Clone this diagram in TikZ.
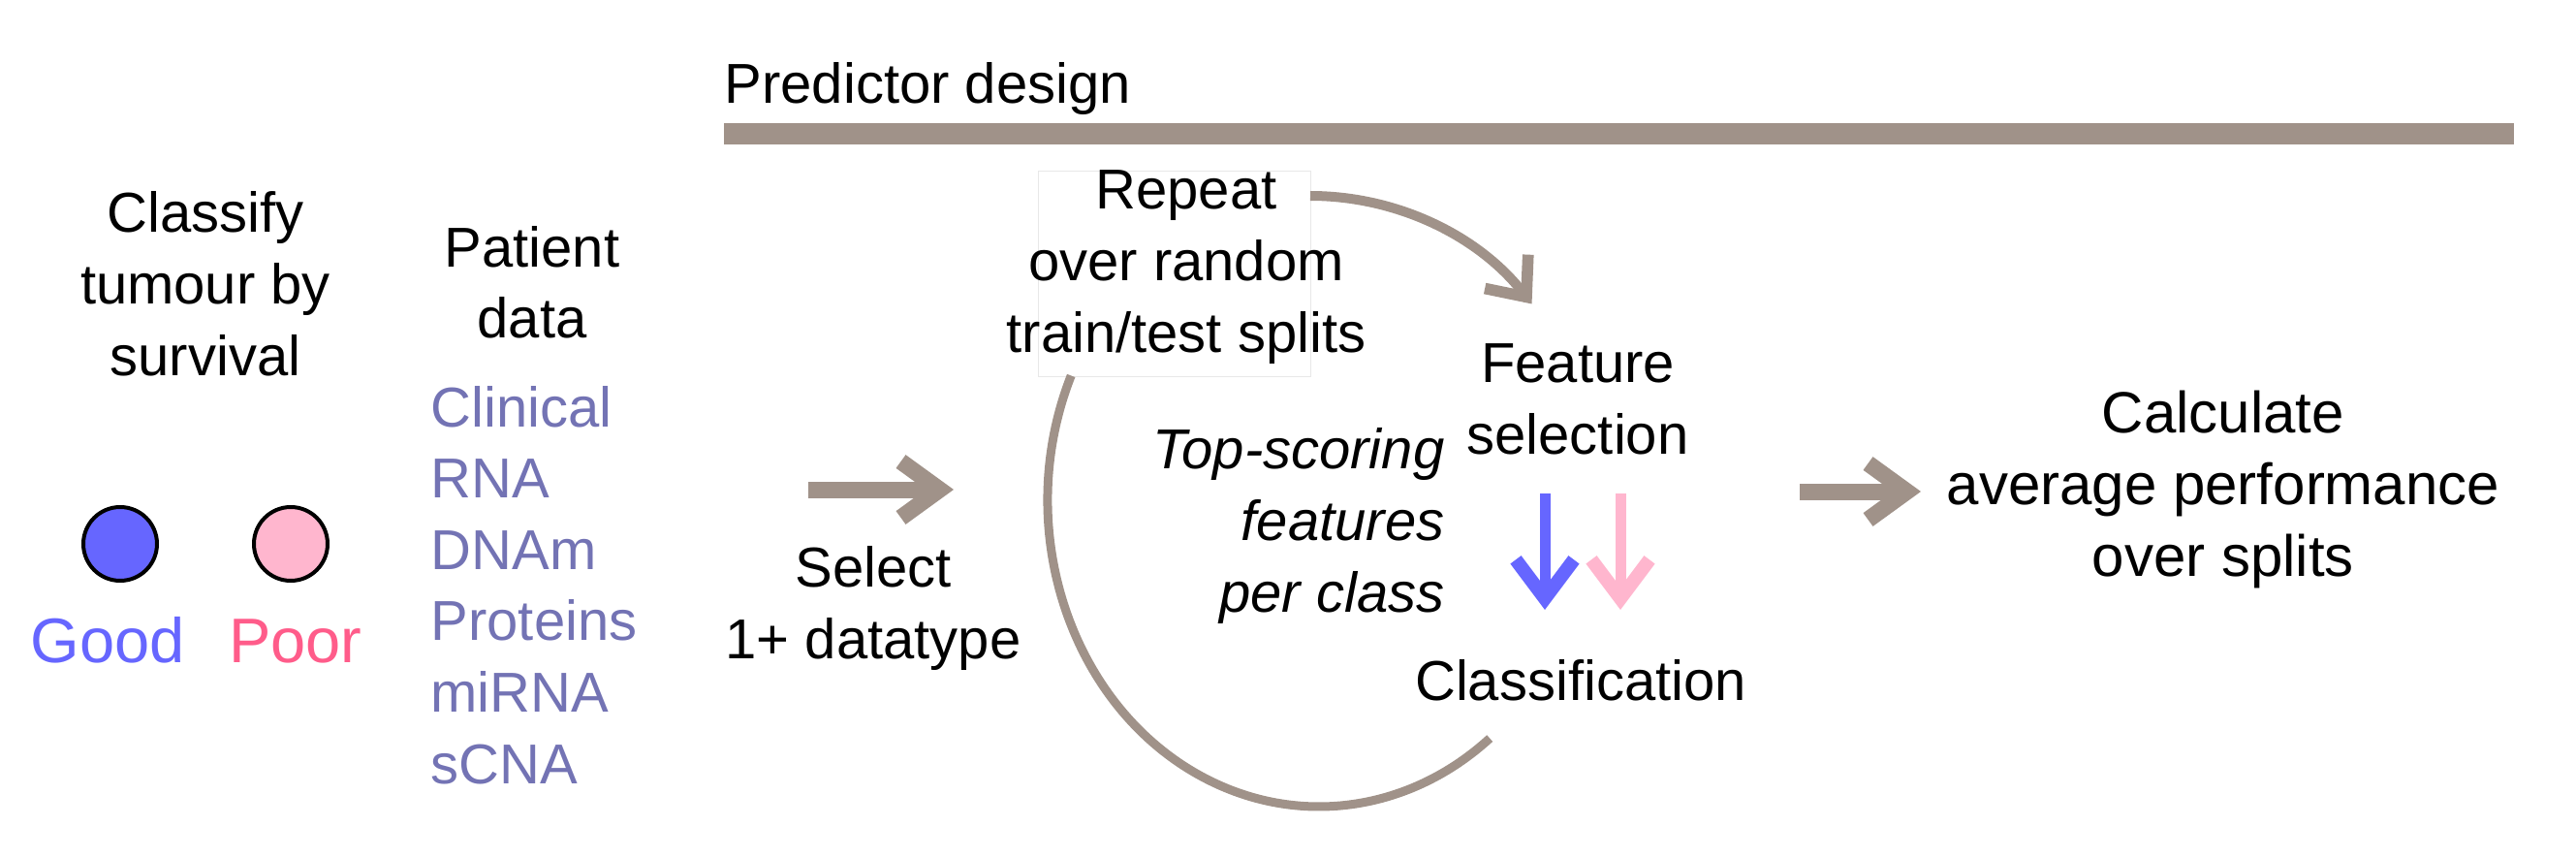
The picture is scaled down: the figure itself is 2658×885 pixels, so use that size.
\documentclass[tikz,border=0pt]{standalone}
\usepackage{fontspec}
\setmainfont{Liberation Sans}
\usetikzlibrary{arrows.meta}
\definecolor{taupe}{RGB}{160,146,137}
\definecolor{goodblue}{RGB}{102,102,255}
\definecolor{poorpink}{RGB}{255,182,206}
\definecolor{poortext}{RGB}{255,92,138}
\definecolor{listcol}{RGB}{115,115,180}
\definecolor{boxline}{RGB}{232,232,232}
\begin{document}
\begin{tikzpicture}[x=0.3pt,y=-0.3pt,
  txt/.style={font=\fontsize{17.4pt}{22.2pt}\selectfont, inner sep=0pt, align=center, anchor=base},
  dot/.style={circle, draw=black, line width=1.2pt, minimum size=22.8pt, inner sep=0pt},
  bigarrow/.style={taupe, line width=5.1pt, -{Straight Barb[length=12pt,width=17.4pt]}},
  arcarrow/.style={taupe, line width=3pt, -{Straight Barb[length=10pt,width=17pt,line width=3.5pt]}},
  downarrow/.style={line width=3.3pt, -{Straight Barb[length=12pt,width=18pt,line width=4.2pt]}},
  loopline/.style={taupe, line width=2.7pt}]
\useasboundingbox (0,0) rectangle (2658,885);

% header (anchor = baseline of the last line)
\node[txt, anchor=base west] (pd) at (747,107) {Predictor design};
\coordinate (barL) at (747,138);
\coordinate (barR) at (2594,138);
\draw[taupe, line width=6.6pt] (barL) -- (barR);

% left column
\node[txt] (classify) at (212,387) {Classify\\tumour by\\survival};
\node[dot, fill=goodblue] (good) at (124,561) {};
\node[dot, fill=poorpink] (poor) at (300,561) {};
\node[txt, font=\fontsize{19.5pt}{24pt}\selectfont, text=goodblue] (goodl) at (111,683) {Good};
\node[txt, font=\fontsize{19.5pt}{24pt}\selectfont, text=poortext] (poorl) at (305,683) {Poor};

\node[txt] (patient) at (549,349) {Patient\\data};
\node[txt, align=left, anchor=base west, text=listcol, font=\fontsize{17.4pt}{22.08pt}\selectfont] (list) at (444,808) {Clinical\\RNA\\DNAm\\Proteins\\miRNA\\sCNA};

% select
\coordinate (a1s) at (834,505);
\coordinate (a1e) at (984,505);
\draw[bigarrow] (a1s) -- (a1e);
\node[txt] (select) at (901,679) {Select\\1+ datatype};

% repeat loop
\node[draw=boxline, fill=white, line width=0.3pt, minimum width=84.3pt, minimum height=63.3pt, inner sep=0pt] (rbox) at (1211.5,282.5) {};
\node[txt] (repeat) at (1224,363) {Repeat\\over random\\train/test splits};
\coordinate (ts) at (1352,202);
\draw[arcarrow] (ts) arc[start angle=90, end angle=38, radius=87pt];
\coordinate (loopc) at (1361,516);
\draw[loopline] ([shift={(156:84pt and 94.8pt)}]loopc) arc[start angle=156, end angle=309, x radius=84pt, y radius=94.8pt];

\node[txt, align=right, anchor=base east, font=\fontsize{17.4pt}{22.2pt}\selectfont\itshape] (topsc) at (1491,631) {Top-scoring\\features\\per class};
\node[txt] (feat) at (1628,468) {Feature\\selection};
\coordinate (b1s) at (1594,509);
\coordinate (b1e) at (1594,629);
\coordinate (b2s) at (1672,509);
\coordinate (b2e) at (1672,629);
\draw[downarrow, goodblue] (b1s) -- (b1e);
\draw[downarrow, poorpink] (b2s) -- (b2e);
\node[txt] (cls) at (1631,722) {Classification};

% final
\coordinate (a2s) at (1857,507);
\coordinate (a2e) at (1982,507);
\draw[bigarrow] (a2s) -- (a2e);
\node[txt, font=\fontsize{18pt}{22.2pt}\selectfont] (calc) at (2294,594) {Calculate\\average performance\\over splits};
\end{tikzpicture}
\end{document}
